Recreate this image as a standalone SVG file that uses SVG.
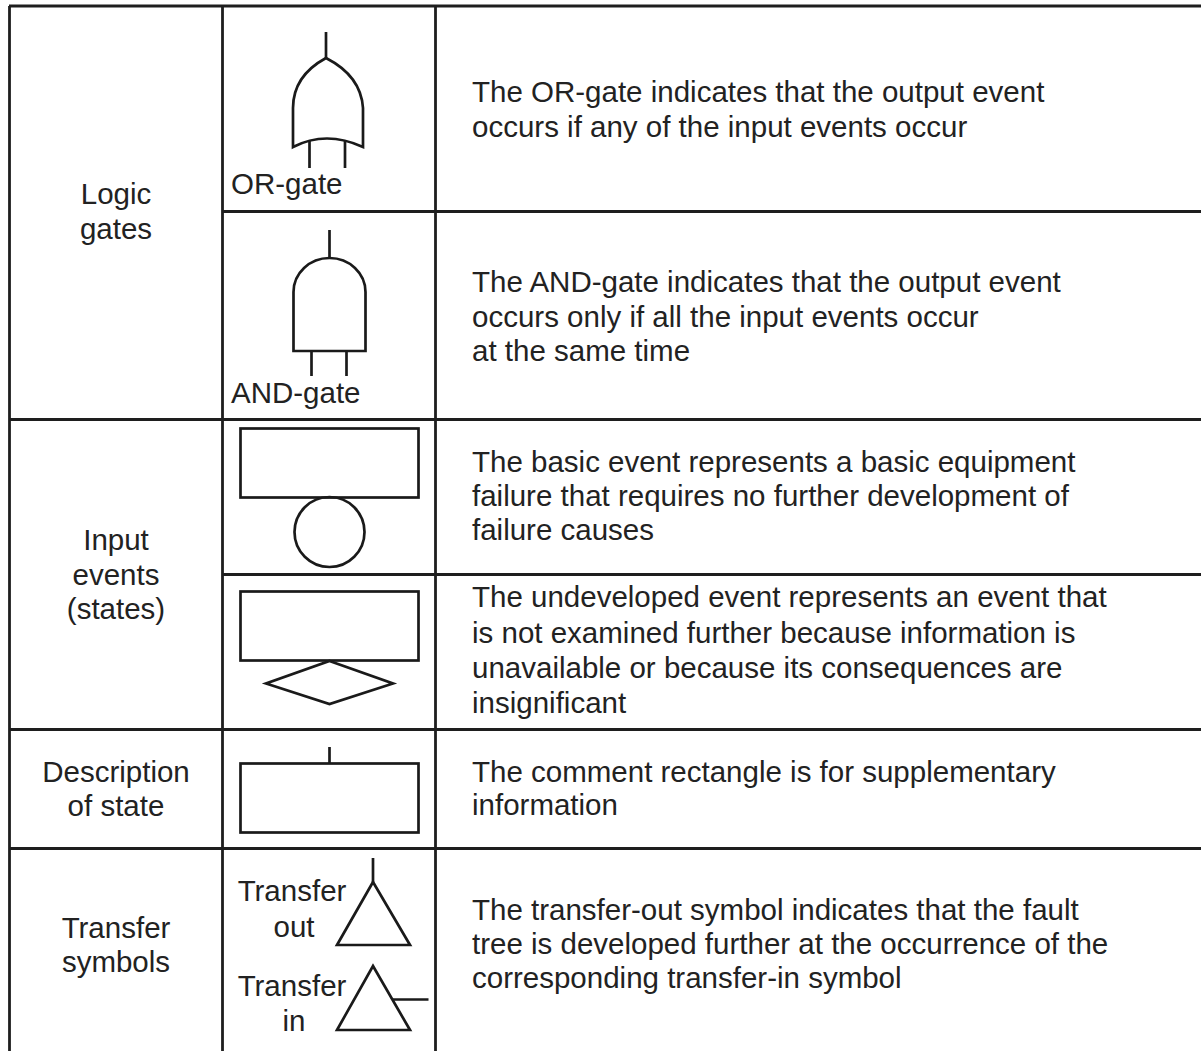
<svg xmlns="http://www.w3.org/2000/svg" width="1201" height="1051" viewBox="0 0 1201 1051">
  <style>
    .grid { stroke: #1e1e1e; stroke-width: 2.8; fill: none; }
    .sym { stroke: #1a1a1a; stroke-width: 2.7; fill: none; stroke-linejoin: miter; }
    text { font-family: "Liberation Sans", Arial, Helvetica, sans-serif; font-size: 29.5px; fill: #222; }
    .c { text-anchor: middle; }
  </style>
  <rect width="1201" height="1051" fill="#ffffff"/>

  <!-- table rules -->
  <g id="table">
    <line class="grid" x1="9" y1="6" x2="1201" y2="6"/>
    <line class="grid" x1="9.5" y1="6" x2="9.5" y2="1051"/>
    <line class="grid" x1="222.5" y1="6" x2="222.5" y2="1051"/>
    <line class="grid" x1="435.5" y1="6" x2="435.5" y2="1051"/>
    <line class="grid" x1="222" y1="211.5" x2="1201" y2="211.5"/>
    <line class="grid" x1="9" y1="419.5" x2="1201" y2="419.5"/>
    <line class="grid" x1="222" y1="574.5" x2="1201" y2="574.5"/>
    <line class="grid" x1="9" y1="729.5" x2="1201" y2="729.5"/>
    <line class="grid" x1="9" y1="848.5" x2="1201" y2="848.5"/>
  </g>

  <!-- category labels -->
  <g id="cat-logic">
    <text class="c" x="116" y="204">Logic</text>
    <text class="c" x="116" y="239">gates</text>
  </g>
  <g id="cat-input">
    <text class="c" x="116" y="550">Input</text>
    <text class="c" x="116" y="585">events</text>
    <text class="c" x="116" y="619">(states)</text>
  </g>
  <g id="cat-description">
    <text class="c" x="116" y="782">Description</text>
    <text class="c" x="116" y="816">of state</text>
  </g>
  <g id="cat-transfer">
    <text class="c" x="116" y="938">Transfer</text>
    <text class="c" x="116" y="972">symbols</text>
  </g>

  <!-- OR gate -->
  <g id="or-gate">
    <line class="sym" x1="326" y1="32" x2="326" y2="58"/>
    <path class="sym" d="M326 58 Q 293 76 293 108 L 293 147 Q 326 130 363 147 L 363 108 Q 361 76 326 58 Z"/>
    <line class="sym" x1="309.5" y1="141" x2="309.5" y2="168"/>
    <line class="sym" x1="345" y1="140" x2="345" y2="168"/>
    <text x="231" y="194">OR-gate</text>
  </g>

  <!-- AND gate -->
  <g id="and-gate">
    <line class="sym" x1="329.5" y1="230" x2="329.5" y2="258"/>
    <path class="sym" d="M293.5 351 L 293.5 292 A 36 34 0 0 1 365.5 292 L 365.5 351 Z"/>
    <line class="sym" x1="311.5" y1="351" x2="311.5" y2="376"/>
    <line class="sym" x1="346.5" y1="351" x2="346.5" y2="376"/>
    <text x="231" y="403">AND-gate</text>
  </g>

  <!-- basic event -->
  <g id="basic-event">
    <rect class="sym" x="240.5" y="428.5" width="178" height="69"/>
    <circle class="sym" cx="329.5" cy="532" r="35"/>
  </g>

  <!-- undeveloped event -->
  <g id="undeveloped-event">
    <rect class="sym" x="240.5" y="591.5" width="178" height="69"/>
    <polygon class="sym" points="329.5,661 393,683.5 329.5,704 266,683.5"/>
  </g>

  <!-- comment rectangle -->
  <g id="comment-rect">
    <line class="sym" x1="329.5" y1="747" x2="329.5" y2="763"/>
    <rect class="sym" x="240.5" y="763.5" width="178" height="69"/>
  </g>

  <!-- transfer out -->
  <g id="transfer-out">
    <line class="sym" x1="373" y1="858" x2="373" y2="882"/>
    <polygon class="sym" points="373,882 410,945 337,945"/>
    <text class="c" x="292" y="901">Transfer</text>
    <text class="c" x="294" y="937">out</text>
  </g>

  <!-- transfer in -->
  <g id="transfer-in">
    <polygon class="sym" points="373,966 410,1030 337,1030"/>
    <line class="sym" x1="393" y1="999.5" x2="428.5" y2="999.5"/>
    <text class="c" x="292" y="996">Transfer</text>
    <text class="c" x="294" y="1031">in</text>
  </g>

  <!-- descriptions -->
  <g id="desc-or">
    <text x="472" y="102">The OR-gate indicates that the output event</text>
    <text x="472" y="137">occurs if any of the input events occur</text>
  </g>
  <g id="desc-and">
    <text x="472" y="292">The AND-gate indicates that the output event</text>
    <text x="472" y="327">occurs only if all the input events occur</text>
    <text x="472" y="361">at the same time</text>
  </g>
  <g id="desc-basic">
    <text x="472" y="472">The basic event represents a basic equipment</text>
    <text x="472" y="506">failure that requires no further development of</text>
    <text x="472" y="540">failure causes</text>
  </g>
  <g id="desc-undeveloped">
    <text x="472" y="607">The undeveloped event represents an event that</text>
    <text x="472" y="643">is not examined further because information is</text>
    <text x="472" y="678">unavailable or because its consequences are</text>
    <text x="472" y="713">insignificant</text>
  </g>
  <g id="desc-comment">
    <text x="472" y="782">The comment rectangle is for supplementary</text>
    <text x="472" y="815">information</text>
  </g>
  <g id="desc-transfer">
    <text x="472" y="920">The transfer-out symbol indicates that the fault</text>
    <text x="472" y="954">tree is developed further at the occurrence of the</text>
    <text x="472" y="988">corresponding transfer-in symbol</text>
  </g>
</svg>
